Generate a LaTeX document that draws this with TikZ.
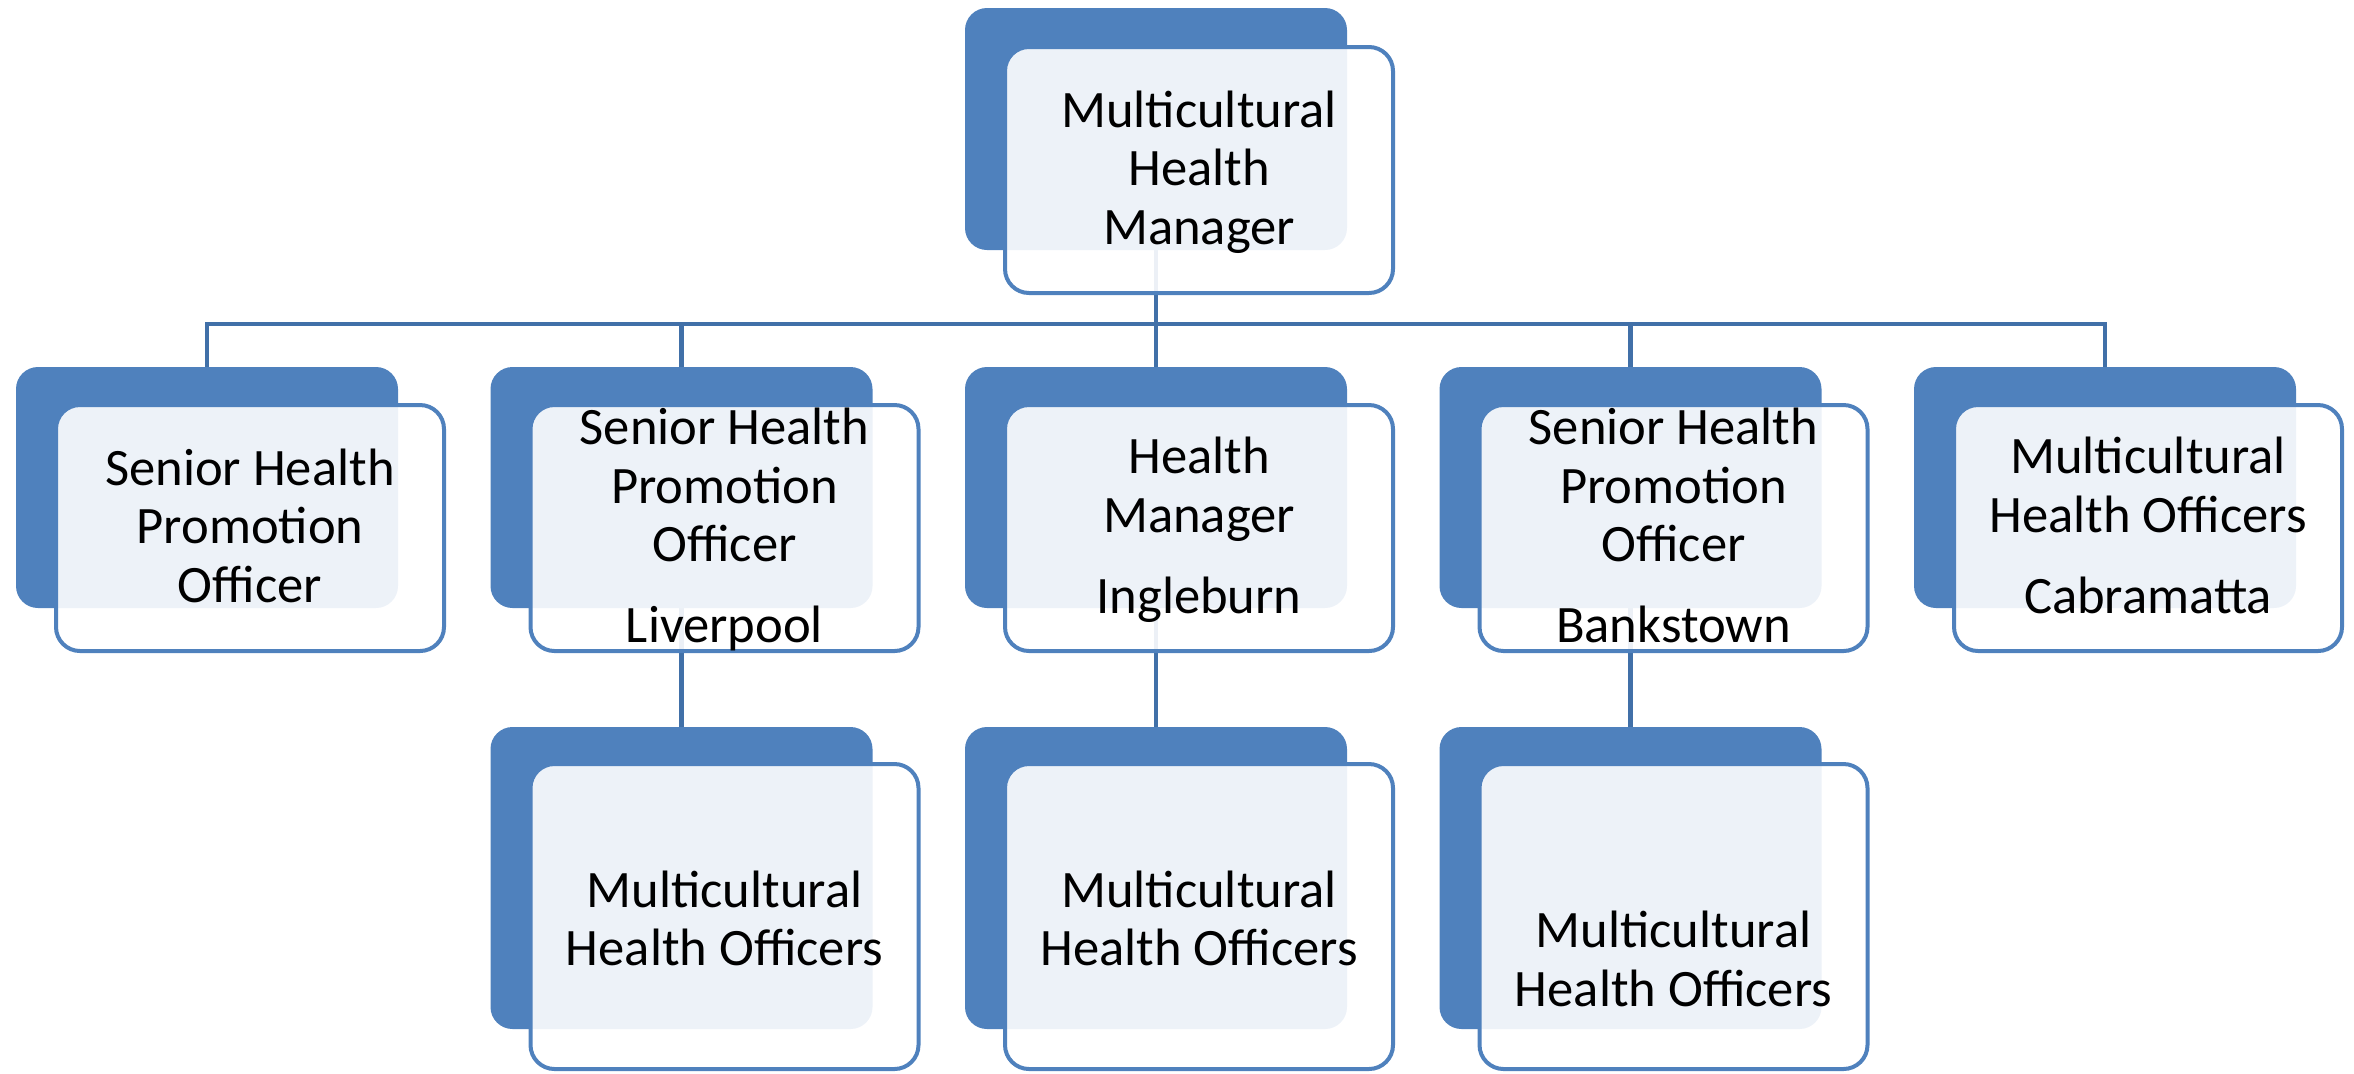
\documentclass[tikz,border=0pt]{standalone}
\usepackage{fontspec}
\setmainfont{Carlito}
\usetikzlibrary{backgrounds}
\definecolor{backblue}{HTML}{4F81BD}
\definecolor{connblue}{HTML}{4170A8}
\newcommand\topst{\rule{0pt}{25.5pt}}
\newcommand\toplow{\rule{0pt}{30pt}}
\newcommand\botst{\rule[-9.8pt]{0pt}{9.8pt}}
\begin{document}
\begin{tikzpicture}[x=0.5pt,y=-0.5pt,
  backbox/.style={draw=none, fill=backblue, rounded corners=11pt, inner sep=0pt, minimum width=191pt},
  frontbox/.style={draw=backblue, line width=2pt, fill=white, fill opacity=0.9,
    rounded corners=12pt, minimum width=194pt, inner sep=0pt},
  txt/.style={draw=none, fill=none, fill opacity=1, text opacity=1, align=center, inner sep=0pt,
    font=\fontsize{26.3}{29.25}\selectfont},
  link/.style={draw=connblue, line width=2.2pt}]
\useasboundingbox (0,0) rectangle (2354,1073);
% top
\node[backbox, minimum height=121pt] (mb) at (1156,129) {};
\node[frontbox, minimum height=123pt, label={[txt]center:{\topst Multicultural\\Health\\Manager\botst}}] (m) at (1199,170) {};
% row 2 back boxes
\node[backbox, minimum height=120.5pt] (b1) at (207,487.5) {};
\node[backbox, minimum height=120.5pt] (b2) at (681.5,487.5) {};
\node[backbox, minimum height=120.5pt] (b3) at (1156,487.5) {};
\node[backbox, minimum height=120.5pt] (b4) at (1630.5,487.5) {};
\node[backbox, minimum height=120.5pt] (b5) at (2105,487.5) {};
% row 2 front boxes
\node[frontbox, minimum height=123pt, label={[txt]center:{\topst Senior Health\\Promotion\\Officer\botst}}] (f1) at (250,528) {};
\node[frontbox, minimum height=123pt, label={[txt]center:{\topst Senior Health\\Promotion\\Officer\\[11.25pt]Liverpool\botst}}] (f2) at (724.5,528) {};
\node[frontbox, minimum height=123pt, label={[txt]center:{\topst Health\\Manager\\[11.25pt]Ingleburn\botst}}] (f3) at (1199,528) {};
\node[frontbox, minimum height=123pt, label={[txt]center:{\topst Senior Health\\Promotion\\Officer\\[11.25pt]Bankstown\botst}}] (f4) at (1673.5,528) {};
\node[frontbox, minimum height=123pt, label={[txt]center:{\topst Multicultural\\Health Officers\\[11.25pt]Cabramatta\botst}}] (f5) at (2148,528) {};
% row 3
\node[backbox, minimum height=151pt] (c2) at (681.5,878) {};
\node[backbox, minimum height=151pt] (c3) at (1156,878) {};
\node[backbox, minimum height=151pt] (c4) at (1630.5,878) {};
\node[frontbox, minimum height=152.5pt, label={[txt]center:{\toplow Multicultural\\Health Officers\botst}}] (g2) at (724.5,916.5) {};
\node[frontbox, minimum height=152.5pt, label={[txt]center:{\toplow Multicultural\\Health Officers\botst}}] (g3) at (1199,916.5) {};
\node[frontbox, minimum height=152.5pt, label={[txt]center:{\toplow\\[11.25pt]Multicultural\\Health Officers\botst}}] (g4) at (1673.5,916.5) {};
% connectors
\coordinate (bar) at (1156,324);
\begin{scope}[on background layer]
\draw[link] (mb.south) -- (mb.south |- bar);
\draw[link] (b1.north) -- (b1.north |- bar) -- (b5.north |- bar) -- (b5.north);
\draw[link] (b2.north) -- (b2.north |- bar);
\draw[link] (b3.north) -- (b3.north |- bar);
\draw[link] (b4.north) -- (b4.north |- bar);
\draw[link] (b2.south) -- (c2.north);
\draw[link] (b3.south) -- (c3.north);
\draw[link] (b4.south) -- (c4.north);
\end{scope}
\end{tikzpicture}
\end{document}
